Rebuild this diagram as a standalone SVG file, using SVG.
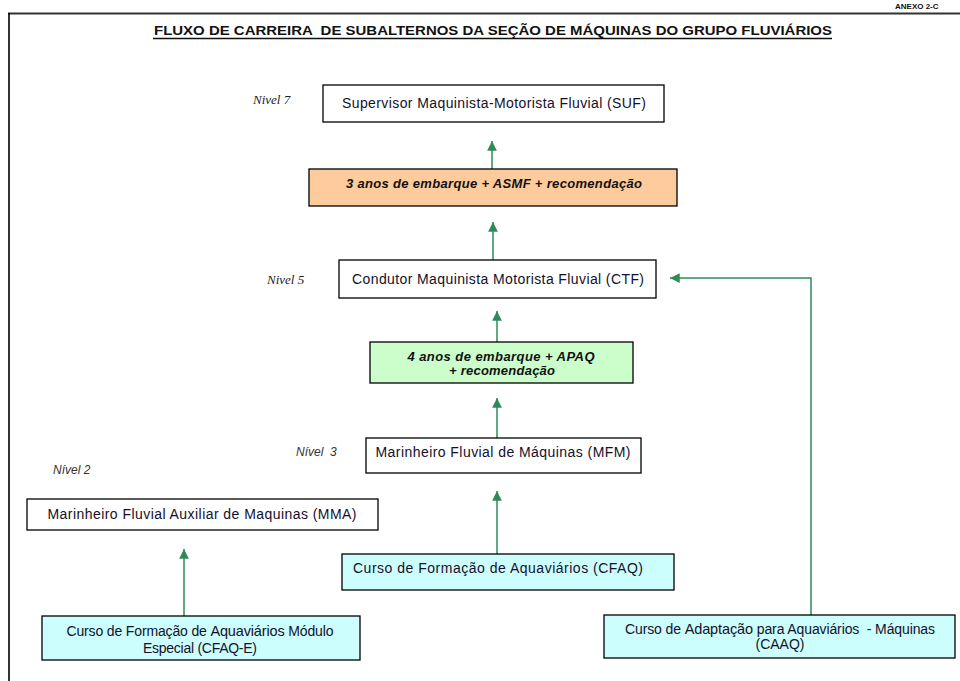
<svg xmlns="http://www.w3.org/2000/svg" width="960" height="681" viewBox="0 0 960 681">
<style>
.box{stroke:#000;stroke-width:1.3;}
.t{font-family:"Liberation Sans",Arial,sans-serif;font-size:14px;fill:#14102a;}
.bi{font-family:"Liberation Sans",Arial,sans-serif;font-size:13px;font-weight:bold;font-style:italic;fill:#111;}
.lvs{font-family:"Liberation Serif","Times New Roman",serif;font-size:13px;font-style:italic;fill:#222;}
.lva{font-family:"Liberation Sans",Arial,sans-serif;font-size:12px;font-style:italic;fill:#333;}
.c{stroke:#2e8b57;stroke-width:1.5;fill:none;}
</style>
<defs>
<marker id="ah" viewBox="0 0 10 10" refX="10" refY="5" markerWidth="6.5" markerHeight="6.5" markerUnits="strokeWidth" orient="auto">
<path d="M0,0 L10,5 L0,10 Z" fill="#2e8b57"/>
</marker>
</defs>
<rect width="960" height="681" fill="#fff"/>
<g id="frame">
<line x1="8" y1="13.5" x2="960" y2="13.5" stroke="#333" stroke-width="2"/>
<line x1="9" y1="13" x2="9" y2="681" stroke="#000" stroke-width="1.6"/>
<text x="895" y="8.5" font-family="Liberation Sans,Arial,sans-serif" font-size="8" font-weight="bold" fill="#111">ANEXO 2-C</text>
</g>
<g id="title">
<text x="493" y="35" text-anchor="middle" xml:space="preserve" font-family="Liberation Sans,Arial,sans-serif" font-size="13" font-weight="bold" fill="#111" textLength="678" lengthAdjust="spacingAndGlyphs">FLUXO DE CARREIRA  DE SUBALTERNOS DA SEÇÃO DE MÁQUINAS DO GRUPO FLUVIÁRIOS</text>
<line x1="153" y1="38.5" x2="832" y2="38.5" stroke="#111" stroke-width="1.3"/>
</g>
<g id="levels">
<text class="lvs" x="253" y="104">Nivel 7</text>
<text class="lvs" x="267" y="284">Nivel 5</text>
<text class="lva" x="296" y="456" xml:space="preserve">Nível  3</text>
<text class="lva" x="53" y="474">Nível 2</text>
</g>
<g id="connectors">
<line class="c" x1="492" y1="169" x2="492" y2="141" marker-end="url(#ah)"/>
<line class="c" x1="493" y1="260" x2="493" y2="222" marker-end="url(#ah)"/>
<line class="c" x1="497" y1="342" x2="497" y2="311" marker-end="url(#ah)"/>
<line class="c" x1="497" y1="438" x2="497" y2="398" marker-end="url(#ah)"/>
<line class="c" x1="497" y1="554" x2="497" y2="491" marker-end="url(#ah)"/>
<line class="c" x1="184" y1="616" x2="184" y2="549" marker-end="url(#ah)"/>
<polyline class="c" points="811,615 811,278 670,278" marker-end="url(#ah)"/>
</g>
<g id="n-suf">
<rect x="323" y="85" width="341" height="37" fill="#fff" class="box"/>
<text class="t" x="494" y="108" text-anchor="middle" textLength="304" lengthAdjust="spacing">Supervisor Maquinista-Motorista Fluvial (SUF)</text>
</g>
<g id="n-asmf">
<rect x="309" y="169" width="368" height="37" fill="#fecb9c" class="box"/>
<text class="bi" x="494" y="188" text-anchor="middle" textLength="296" lengthAdjust="spacing">3 anos de embarque + ASMF + recomendação</text>
</g>
<g id="n-ctf">
<rect x="339" y="260" width="317" height="38" fill="#fff" class="box"/>
<text class="t" x="498" y="284" text-anchor="middle" textLength="292" lengthAdjust="spacing">Condutor Maquinista Motorista Fluvial (CTF)</text>
</g>
<g id="n-apaq">
<rect x="370" y="342" width="263" height="41" fill="#ccfecc" class="box"/>
<text class="bi" x="501" y="361" text-anchor="middle" textLength="187" lengthAdjust="spacing">4 anos de embarque + APAQ</text>
<text class="bi" x="502" y="375" text-anchor="middle" textLength="106" lengthAdjust="spacing">+ recomendação</text>
</g>
<g id="n-mfm">
<rect x="366" y="438" width="275" height="35" fill="#fff" class="box"/>
<text class="t" x="503" y="457" text-anchor="middle" textLength="255" lengthAdjust="spacing">Marinheiro Fluvial de Máquinas (MFM)</text>
</g>
<g id="n-mma">
<rect x="27" y="499" width="351" height="31" fill="#fff" class="box"/>
<text class="t" x="202" y="519" text-anchor="middle" textLength="309" lengthAdjust="spacing">Marinheiro Fluvial Auxiliar de Maquinas (MMA)</text>
</g>
<g id="n-cfaq">
<rect x="342" y="554" width="332" height="36" fill="#ccfefe" class="box"/>
<text class="t" x="353" y="573" textLength="290" lengthAdjust="spacing">Curso de Formação de Aquaviários (CFAQ)</text>
</g>
<g id="n-cfaqe">
<rect x="42" y="616" width="318" height="44" fill="#ccfefe" class="box"/>
<text class="t" x="200" y="636" text-anchor="middle" font-size="13" textLength="267" lengthAdjust="spacing">Curso de Formação de <tspan font-size="14.5">Aquaviários</tspan> Módulo</text>
<text class="t" x="200" y="653" text-anchor="middle" font-size="13" textLength="114" lengthAdjust="spacing">Especial (CFAQ-E)</text>
</g>
<g id="n-caaq">
<rect x="604" y="615" width="351" height="43" fill="#ccfefe" class="box"/>
<text class="t" x="780" y="634" text-anchor="middle" font-size="13" textLength="310" lengthAdjust="spacing" xml:space="preserve">Curso de <tspan font-size="14.5">Adaptação</tspan> para Aquaviários  - Máquinas</text>
<text class="t" x="780" y="649" text-anchor="middle" font-size="13">(CAAQ)</text>
</g>
</svg>
